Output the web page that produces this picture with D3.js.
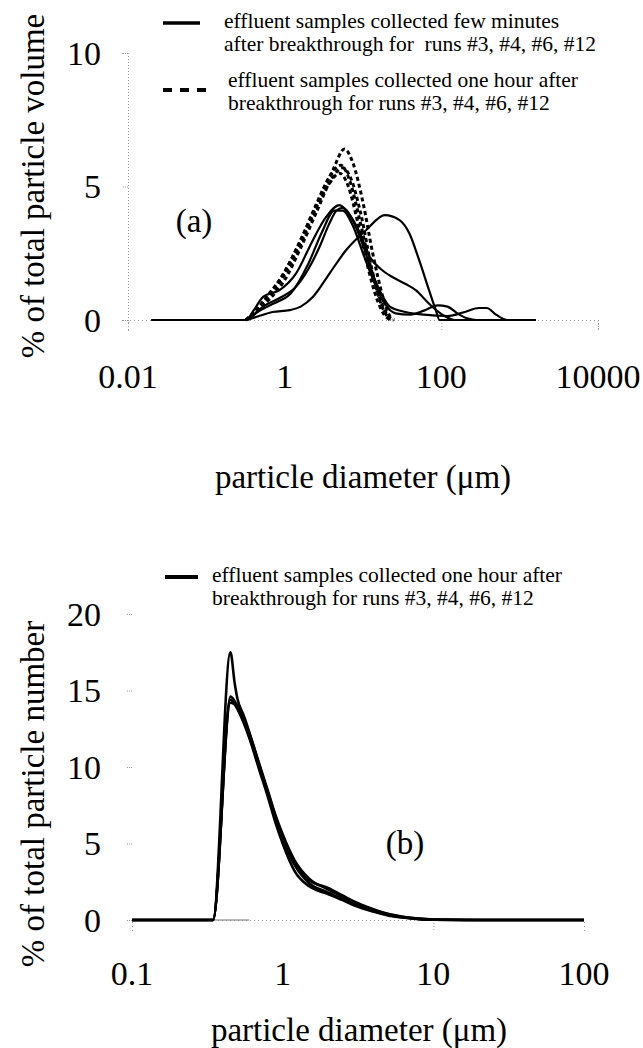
<!DOCTYPE html>
<html>
<head>
<meta charset="utf-8">
<script src="https://cdn.jsdelivr.net/npm/d3@7"></script>
<style>
  html, body { margin: 0; padding: 0; background: #fff; }
  svg text { font-family: "Liberation Serif", "Times New Roman", serif; fill: #000; }
</style>
</head>
<body>
<svg id="chart" width="643" height="1048" font-family="Liberation Serif, serif"></svg>
<script>
// ---------- Panel (a): % of total particle volume vs diameter (µm) ----------
const xTicksA = [0.01, 1, 100, 10000];
const xTickLabelsA = ["0.01", "1", "100", "10000"];
const yTicksA = [0, 5, 10];

// effluent samples collected few minutes after breakthrough (solid)
const solidRun3 = [[0.02,0],[0.32,0],[0.4,0.35],[0.53,0.87],[0.86,1.12],[1.4,1.75],[2.3,3.0],[3.4,3.87],[5,4.3],[6.5,4.0],[9,3.3],[12,2.4],[17,1.9],[24,1.6],[35,1.35],[48,1.1],[65,0.7],[80,0.45],[110,0.15],[150,0],[1600,0]];
const solidRun4 = [[0.02,0],[0.32,0],[0.44,0.12],[0.7,0.3],[1.16,0.37],[1.6,0.5],[2.3,0.87],[3.75,1.75],[6.1,2.62],[11,3.37],[19,3.93],[29,3.75],[39,3.25],[52,2.25],[70,1.1],[85,0.37],[95,0],[1600,0]];
const solidRun6 = [[0.02,0],[0.32,0],[0.4,0.2],[0.53,0.5],[0.9,0.85],[1.4,1.25],[2.0,1.9],[2.8,2.75],[3.7,3.6],[4.6,4.1],[5.5,4.2],[7.5,3.7],[10,2.8],[13,1.8],[17,1.0],[22,0.5],[35,0.3],[60,0.2],[120,0.15],[200,0.3],[300,0.45],[380,0.45],[500,0.2],[700,0],[1600,0]];
const solidRun12 = [[0.02,0],[0.32,0],[0.45,0.3],[0.7,0.6],[1.2,1.0],[2,2.1],[3,3.3],[4.3,4.1],[5.5,4.1],[7.5,3.5],[10,2.5],[14,1.4],[19,0.6],[26,0.25],[40,0.2],[60,0.35],[90,0.55],[120,0.5],[160,0.25],[220,0.05],[280,0],[1600,0]];

// effluent samples collected one hour after breakthrough (dashed)
const dashedRun3 = [[0.32,0],[0.36,0.12],[0.58,0.75],[0.95,1.6],[1.55,2.75],[2.5,4.2],[4.1,5.6],[5.8,6.4],[7.4,5.9],[10,4.4],[13.3,2.5],[18,0.85],[23,0]];
const dashedRun4 = [[0.32,0],[0.37,0.15],[0.58,0.8],[0.95,1.7],[1.55,2.9],[2.5,4.3],[3.8,5.4],[5.2,5.8],[6.8,5.2],[9,3.8],[12,2.2],[16,0.9],[21,0.15],[25,0]];
const dashedRun6 = [[0.32,0],[0.38,0.2],[0.6,0.9],[1.0,1.8],[1.6,3.0],[2.5,4.2],[3.7,5.1],[5.0,5.5],[6.5,5.0],[8.5,3.7],[11.5,2.0],[15,0.8],[20,0.1],[24,0]];
const dashedRun12 = [[0.32,0],[0.36,0.1],[0.6,0.7],[1.0,1.5],[1.6,2.7],[2.6,4.1],[4.0,5.3],[5.5,5.7],[7,5.3],[9.5,3.9],[13,1.9],[17,0.6],[22,0]];

// ---------- Panel (b): % of total particle number vs diameter (µm) ----------
const xTicksB = [0.1, 1, 10, 100];
const xTickLabelsB = ["0.1", "1", "10", "100"];
const yTicksB = [0, 5, 10, 15, 20];

const numberRun3 = [[0.1,0],[0.345,0],[0.45,17.5],[0.48,15.5],[0.5,14.5],[0.55,13.4],[0.6,12.3],[0.7,10.1],[0.8,8.2],[0.9,6.5],[1.0,5.3],[1.2,3.6],[1.5,2.4],[2,1.8],[2.5,1.35],[3,1.0],[4,0.58],[5,0.33],[6,0.2],[8,0.07],[10,0.02],[20,0],[100,0]];
const numberRun4 = [[0.1,0],[0.345,0],[0.45,14.6],[0.5,14.0],[0.55,13.2],[0.6,12.2],[0.7,10.2],[0.8,8.4],[0.9,6.8],[1.0,5.6],[1.2,3.9],[1.5,2.7],[2,2.0],[2.5,1.5],[3,1.1],[4,0.65],[5,0.38],[6,0.22],[8,0.08],[10,0.02],[20,0],[100,0]];
const numberRun6 = [[0.1,0],[0.345,0],[0.45,14.4],[0.5,13.8],[0.55,12.9],[0.6,11.9],[0.7,9.8],[0.8,8.0],[0.9,6.3],[1.0,5.0],[1.2,3.2],[1.5,2.2],[2,1.7],[2.5,1.3],[3,0.95],[4,0.55],[5,0.3],[6,0.18],[8,0.06],[10,0.02],[20,0],[100,0]];
const numberRun12 = [[0.1,0],[0.345,0],[0.45,14.2],[0.5,13.9],[0.55,13.1],[0.6,12.0],[0.7,10.0],[0.8,8.3],[0.9,6.7],[1.0,5.4],[1.2,3.8],[1.5,2.6],[2,2.1],[2.5,1.6],[3,1.2],[4,0.7],[5,0.4],[6,0.25],[8,0.09],[10,0.03],[20,0],[100,0]];

// ---------- drawing ----------
const FONT = "Liberation Serif, Times New Roman, serif";
const svg = d3.select("#chart");
const axisGrey = "#9a9a9a";

function txt(sel) { return sel.attr("font-family", FONT).attr("fill", "#000"); }

function panel(opts) {
  const g = svg.append("g");
  const x = d3.scaleLog().domain(opts.xDomain).range(opts.xRange);
  const y = d3.scaleLinear().domain(opts.yDomain).range(opts.yRange);

  // y axis (faint, dotted)
  const yAxis = d3.axisLeft(y).tickValues(opts.yTicks).tickSize(6).tickFormat("");
  const ya = g.append("g").attr("transform", `translate(${opts.xRange[0]},0)`).call(yAxis);
  ya.select(".domain").attr("stroke", axisGrey).attr("stroke-dasharray", opts.showYDomain ? "1,2" : "0,10000").attr("stroke-width", 1);
  ya.selectAll(".tick line").attr("stroke", axisGrey).attr("stroke-dasharray", "1,1");
  g.selectAll(".ylab").data(opts.yTicks).join("text")
    .attr("x", opts.yLabelX).attr("y", d => y(d))
    .attr("dy", "0.35em").attr("text-anchor", "end")
    .attr("font-size", 34).call(txt).text(d => d);

  // x axis (faint, dotted)
  const xAxis = d3.axisBottom(x).tickValues(opts.xTickMarks).tickSize(11).tickFormat("");
  const xa = g.append("g").attr("transform", `translate(0,${opts.yRange[0]})`).call(xAxis);
  xa.select(".domain").attr("stroke", axisGrey).attr("stroke-dasharray", "1,3").attr("stroke-width", 1);
  xa.selectAll(".tick line").attr("stroke", axisGrey).attr("stroke-dasharray", "1,2");
  g.selectAll(".xlab").data(opts.xTicks).join("text")
    .attr("x", d => x(d)).attr("y", opts.xLabelY)
    .attr("text-anchor", "middle").attr("font-size", 34).call(txt)
    .text((d, i) => opts.xTickLabels[i]);

  // titles
  g.append("text").attr("x", opts.xTitleX).attr("y", opts.xTitleY)
    .attr("text-anchor", "middle").attr("font-size", 33).call(txt).text("particle diameter (\u03bcm)");
  g.append("text")
    .attr("transform", `translate(${opts.yTitleX},${opts.yTitleY}) rotate(-90)`)
    .attr("text-anchor", "middle").attr("font-size", 33).call(txt).text(opts.yTitle);

  const line = d3.line().x(d => x(d[0])).y(d => y(d[1])).curve(d3.curveMonotoneX);
  return { g, x, y, line };
}

// Panel (a)
const A = panel({
  xDomain: [0.01, 10000], xRange: [128, 598],
  yDomain: [0, 10], yRange: [320, 53],
  yTicks: yTicksA, xTicks: xTicksA, xTickLabels: xTickLabelsA,
  xTickMarks: [0.01, 100, 10000],
  showYDomain: true, yLabelX: 101, xLabelY: 388,
  xTitleX: 363, xTitleY: 488,
  yTitleX: 44, yTitleY: 186, yTitle: "% of total particle volume"
});
[solidRun3, solidRun4, solidRun6, solidRun12].forEach(s => {
  A.g.append("path").datum(s).attr("d", A.line).attr("fill", "none")
    .attr("stroke", "#000").attr("stroke-width", 2.2).attr("stroke-linejoin", "round");
});
[dashedRun3, dashedRun4, dashedRun6, dashedRun12].forEach(s => {
  A.g.append("path").datum(s).attr("d", A.line).attr("fill", "none")
    .attr("stroke", "#000").attr("stroke-width", 3).attr("stroke-dasharray", "4,3");
});
A.g.append("text").attr("x", 194).attr("y", 220).attr("dy", "0.35em")
  .attr("text-anchor", "middle").attr("font-size", 33).call(txt).text("(a)");

// legend (a)
const legA = svg.append("g");
legA.append("line").attr("x1", 163).attr("x2", 200).attr("y1", 23).attr("y2", 23)
  .attr("stroke", "#000").attr("stroke-width", 3.5);
legA.append("text").attr("x", 224).attr("y", 28).attr("font-size", 21.5).call(txt)
  .text("effluent samples collected few minutes");
legA.append("text").attr("x", 224).attr("y", 51).attr("font-size", 21.5).call(txt)
  .attr("xml:space", "preserve").style("white-space", "pre")
  .text("after breakthrough for  runs #3, #4, #6, #12");
legA.append("line").attr("x1", 163).attr("x2", 206).attr("y1", 90).attr("y2", 90)
  .attr("stroke", "#000").attr("stroke-width", 4).attr("stroke-dasharray", "9,8");
legA.append("text").attr("x", 228).attr("y", 87).attr("font-size", 21.5).call(txt)
  .text("effluent samples collected one hour after");
legA.append("text").attr("x", 228).attr("y", 110).attr("font-size", 21.5).call(txt)
  .text("breakthrough for runs #3, #4, #6, #12");

// Panel (b)
const B = panel({
  xDomain: [0.1, 100], xRange: [132, 584],
  yDomain: [0, 20], yRange: [920, 614],
  yTicks: yTicksB, xTicks: xTicksB, xTickLabels: xTickLabelsB,
  xTickMarks: [10],
  showYDomain: false, yLabelX: 101, xLabelY: 985,
  xTitleX: 359, xTitleY: 1041,
  yTitleX: 44, yTitleY: 794, yTitle: "% of total particle number"
});
// faint solid axis segment visible just right of the rise
B.g.append("line").attr("x1", B.x(0.345)).attr("x2", B.x(0.6))
  .attr("y1", B.y(0)).attr("y2", B.y(0)).attr("stroke", "#777").attr("stroke-width", 1);
[numberRun3, numberRun4, numberRun6, numberRun12].forEach(s => {
  B.g.append("path").datum(s).attr("d", B.line).attr("fill", "none")
    .attr("stroke", "#000").attr("stroke-width", 2.6).attr("stroke-linejoin", "round");
});
B.g.append("text").attr("x", 405).attr("y", 842).attr("dy", "0.35em")
  .attr("text-anchor", "middle").attr("font-size", 33).call(txt).text("(b)");

// legend (b)
const legB = svg.append("g");
legB.append("line").attr("x1", 165).attr("x2", 198).attr("y1", 577).attr("y2", 577)
  .attr("stroke", "#000").attr("stroke-width", 4);
legB.append("text").attr("x", 212).attr("y", 582).attr("font-size", 21.5).call(txt)
  .text("effluent samples collected one hour after");
legB.append("text").attr("x", 212).attr("y", 605).attr("font-size", 21.5).call(txt)
  .text("breakthrough for runs #3, #4, #6, #12");
</script>
</body>
</html>
